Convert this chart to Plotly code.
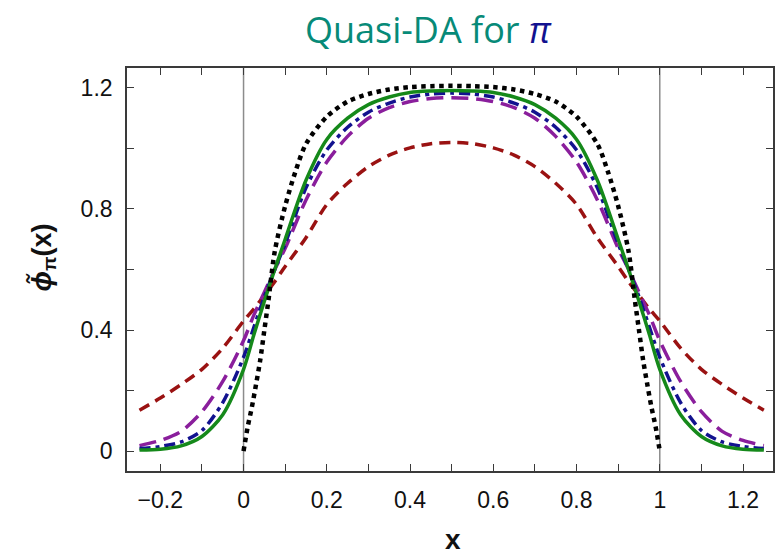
import plotly.graph_objects as go

# ---- data ----
x_grid = [-0.25, -0.2, -0.15, -0.1, -0.05, 0.0, 0.025, 0.05, 0.075, 0.1, 0.15, 0.2, 0.25,
          0.3, 0.35, 0.4, 0.45, 0.5, 0.55, 0.6, 0.65, 0.7, 0.75, 0.8, 0.85, 0.9, 0.925,
          0.95, 0.975, 1.0, 1.05, 1.1, 1.15, 1.2, 1.25]

y_red = [0.135, 0.175, 0.22, 0.27, 0.34, 0.43, 0.47, 0.515, 0.56, 0.61, 0.705, 0.815, 0.885,
         0.94, 0.978, 1.002, 1.016, 1.02, 1.016, 1.002, 0.978, 0.94, 0.885, 0.815, 0.705,
         0.61, 0.56, 0.515, 0.47, 0.43, 0.34, 0.27, 0.22, 0.175, 0.135]

y_purple = [0.018, 0.035, 0.065, 0.13, 0.23, 0.365, 0.45, 0.525, 0.60, 0.67, 0.83, 0.955, 1.04,
            1.10, 1.135, 1.155, 1.165, 1.168, 1.165, 1.155, 1.135, 1.10, 1.04, 0.955, 0.83,
            0.67, 0.60, 0.525, 0.45, 0.365, 0.23, 0.13, 0.065, 0.035, 0.018]

y_blue = [0.008, 0.015, 0.03, 0.068, 0.16, 0.31, 0.41, 0.51, 0.60, 0.685, 0.87, 0.995, 1.07,
          1.12, 1.15, 1.17, 1.18, 1.183, 1.18, 1.17, 1.15, 1.12, 1.07, 0.995, 0.87,
          0.685, 0.60, 0.51, 0.41, 0.31, 0.16, 0.068, 0.03, 0.015, 0.008]

y_green = [0.003, 0.006, 0.017, 0.048, 0.12, 0.27, 0.385, 0.495, 0.60, 0.70, 0.895, 1.03, 1.10,
           1.145, 1.17, 1.185, 1.19, 1.192, 1.19, 1.185, 1.17, 1.145, 1.10, 1.03, 0.895,
           0.70, 0.60, 0.495, 0.385, 0.27, 0.12, 0.048, 0.017, 0.006, 0.003]

x_black = [0.0, 0.01, 0.02, 0.03, 0.04, 0.05, 0.06, 0.075, 0.1, 0.125, 0.15, 0.2, 0.25, 0.3,
           0.35, 0.4, 0.45, 0.5, 0.55, 0.6, 0.65, 0.7, 0.75, 0.8, 0.85, 0.875, 0.9, 0.925,
           0.94, 0.95, 0.96, 0.97, 0.98, 0.99, 1.0]
y_black = [0.0, 0.08, 0.145, 0.22, 0.30, 0.40, 0.50, 0.66, 0.81, 0.925, 1.015, 1.105, 1.155,
           1.18, 1.195, 1.203, 1.206, 1.207, 1.206, 1.203, 1.195, 1.18, 1.155, 1.105, 1.015,
           0.925, 0.81, 0.66, 0.50, 0.40, 0.30, 0.22, 0.145, 0.08, 0.0]

x_ticks = [-0.2, 0, 0.2, 0.4, 0.6, 0.8, 1, 1.2]
x_ticktext = ["\u22120.2", "0", "0.2", "0.4", "0.6", "0.8", "1", "1.2"]
y_ticks = [0, 0.4, 0.8, 1.2]
y_ticktext = ["0", "0.4", "0.8", "1.2"]

fig = go.Figure()

def add(x, y, color, dash, width=3.5):
    fig.add_trace(go.Scatter(x=x, y=y, mode="lines",
                             line=dict(color=color, width=width, dash=dash,
                                       shape="spline", smoothing=0.8),
                             showlegend=False, hoverinfo="skip"))

add(x_grid, y_red, "#9a1212", "11px,7px")
add(x_grid, y_purple, "#8a1e9c", "17px,8px")
add(x_grid, y_blue, "#12128f", "11px,5px,4px,5px")
add(x_grid, y_green, "#15891a", "solid")
add(x_black, y_black, "#000000", "4.5px,4.5px", width=4.5)

# vertical reference lines at x=0 and x=1
for xv in (0, 1):
    fig.add_shape(type="line", xref="x", yref="paper", x0=xv, x1=xv, y0=0, y1=1,
                  line=dict(color="#8c8c8c", width=1.5), layer="below")

axis_common = dict(showline=True, linecolor="#3a3a3a", linewidth=1.6, mirror="ticks",
                   ticks="inside", ticklen=7, tickwidth=1.4, tickcolor="#3a3a3a",
                   showgrid=False, zeroline=False,
                   tickfont=dict(family="Liberation Sans, Arial", size=23, color="#111"))

fig.update_xaxes(range=[-0.28, 1.272], tickvals=x_ticks, ticktext=x_ticktext,
                 minor=dict(dtick=0.1, tick0=0, ticks="inside", ticklen=7,
                            tickwidth=1.4, tickcolor="#3a3a3a"),
                 ticklabelstandoff=8, **axis_common)
fig.update_yaxes(range=[-0.066, 1.266], tickvals=y_ticks, ticktext=y_ticktext,
                 minor=dict(dtick=0.2, tick0=0, ticks="inside", ticklen=7,
                            tickwidth=1.4, tickcolor="#3a3a3a"),
                 ticklabelstandoff=8, **axis_common)

fig.update_layout(
    width=775, height=555,
    margin=dict(l=127, r=0, t=68, b=84),
    plot_bgcolor="white", paper_bgcolor="white",
    title=dict(text='Quasi-DA for <span style="color:#12128f"><i>\u03c0</i></span>',
               font=dict(family="Open Sans, Lato, sans-serif", size=36, color="#078a78"),
               x=0.552, xanchor="center", yref="container", y=0.945, yanchor="middle"),
    annotations=[
        dict(text="<b><i>\u03d5\u0303</i><sub>\u03c0</sub>(x)</b>", xref="paper", yref="paper",
             x=-0.13, y=0.53, textangle=-90, showarrow=False,
             font=dict(family="Liberation Sans, Arial", size=27, color="#111"),
             xanchor="center", yanchor="middle"),
        dict(text="<b>x</b>", xref="paper", yref="paper", x=0.505, y=-0.17,
             showarrow=False, font=dict(family="Liberation Sans, Arial", size=28, color="#111"),
             xanchor="center", yanchor="middle"),
    ],
)

fig.write_html("out.html")
